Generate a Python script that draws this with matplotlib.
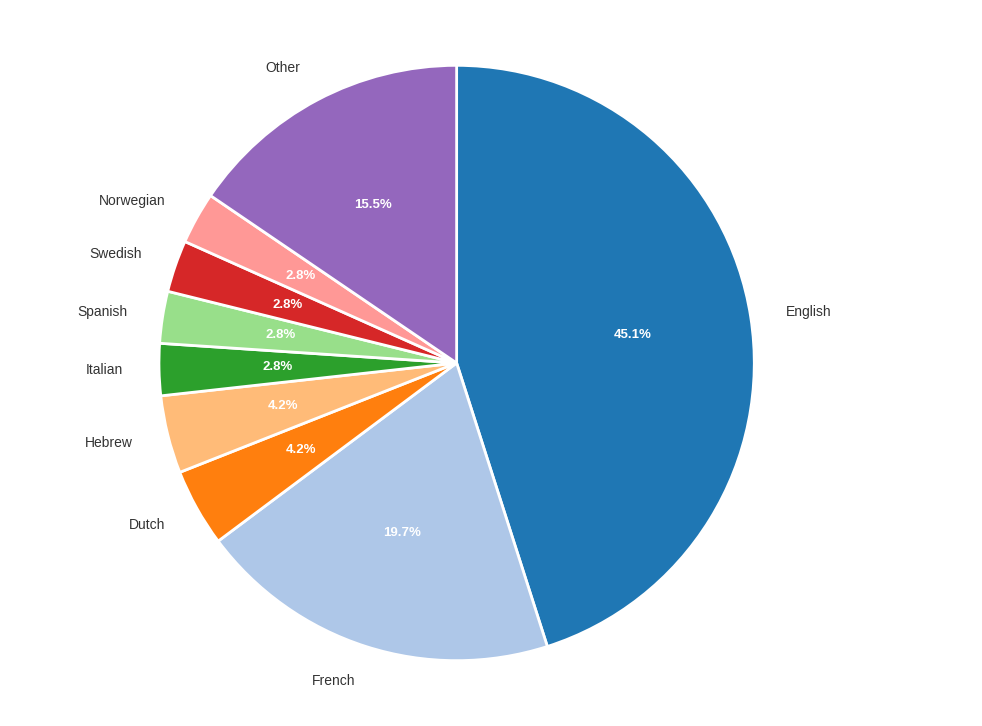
import matplotlib
matplotlib.use("Agg")
import matplotlib.pyplot as plt

languages = ["English", "French", "Dutch", "Hebrew", "Italian", "Spanish", "Swedish", "Norwegian", "Other"]
counts = [32, 14, 3, 3, 2, 2, 2, 2, 11]
colors = ["#1f77b4", "#aec7e8", "#ff7f0e", "#ffbb78", "#2ca02c", "#98df8a", "#d62728", "#ff9896", "#9467bd"]

plt.rcParams["font.family"] = ["Liberation Sans", "DejaVu Sans"]
fig = plt.figure(figsize=(9.82, 7.26), dpi=100)
ax = fig.add_axes([0.0, 0.0, 0.93, 1.0])
wedges, texts, autotexts = ax.pie(
    counts, labels=languages, colors=colors, startangle=90, counterclock=False,
    autopct="%1.1f%%", pctdistance=0.6, labeldistance=1.12,
    wedgeprops=dict(edgecolor="white", linewidth=2), radius=0.82,
    textprops=dict(fontsize=10, color="#333333"))
for t in autotexts:
    t.set_color("white")
    t.set_fontweight("bold")
    t.set_fontsize(9.5)
ax.set_xlim(-1, 1)
ax.set_ylim(-1, 1)
ax.set_aspect("equal")
fig.savefig("out.png", dpi=100)
